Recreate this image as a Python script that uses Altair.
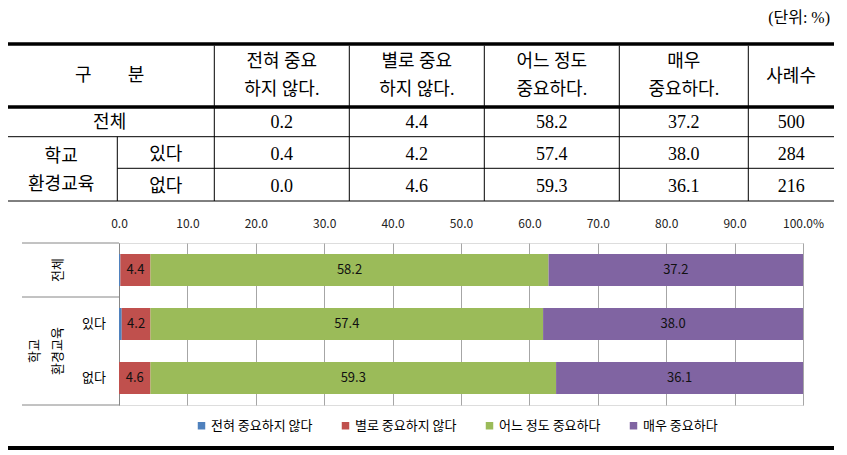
import altair as alt
import pandas as pd

# ---------------- data ----------------
groups = ["전체", "있다", "없다"]
categories = ["전혀 중요하지 않다", "별로 중요하지 않다", "어느 정도 중요하다", "매우 중요하다"]
colors = ["#4F81BD", "#C0504D", "#9BBB59", "#8064A2"]
v_not_at_all = [0.2, 0.4, 0.0]
v_not_very = [4.4, 4.2, 4.6]
v_somewhat = [58.2, 57.4, 59.3]
v_very = [37.2, 38.0, 36.1]
n_cases = [500, 284, 216]
header_first = "구\u3000\u3000분"
header_cols = [["전혀 중요", "하지 않다."], ["별로 중요", "하지 않다."],
               ["어느 정도", "중요하다."], ["매우", "중요하다."], ["사례수"]]
row_labels = ["전체", "있다", "없다"]
group_label = ["학교", "환경교육"]
unit_label = "(단위: %)"
x_ticks = [0, 10, 20, 30, 40, 50, 60, 70, 80, 90, 100]

# ---------------- layout (page pixels) ----------------
OX, OY = 119, 243          # plot origin on the page
PW, PH = 684, 162          # plot size
col_edges = [5, 117.3, 214.3, 349.3, 484.3, 619.3, 748.3, 834]
header_line_y = [61.7, 90]
header_single_y = 77
row_y = [123.3, 155, 186.7]
TABLE_FONT = "Liberation Serif, Noto Sans CJK KR"
CHART_FONT = "Noto Sans CJK KR"

series = [v_not_at_all, v_not_very, v_somewhat, v_very]
rows = []
for ci, (cat, vals) in enumerate(zip(categories, series)):
    for g, v in zip(groups, vals):
        rows.append({"group": g, "category": cat, "idx": ci, "value": v})
bars_df = pd.DataFrame(rows)

# ---------------- stacked bar chart ----------------
base = alt.Chart(bars_df).transform_stack(
    stack="value", groupby=["group"], sort=[alt.SortField("idx")], as_=["x0", "x1"]
).transform_calculate(mid="(datum.x0 + datum.x1) / 2")

xscale = alt.Scale(domain=[0, 100], nice=False, zero=True)
yscale = alt.Scale(domain=groups, paddingInner=0, paddingOuter=0)

bars = base.mark_bar(size=32).encode(
    x=alt.X("x0:Q", scale=xscale, title=None,
            axis=alt.Axis(orient="top", values=x_ticks, grid=True, gridColor="#a6a6a6",
                          domain=False, ticks=False, labelFontSize=12, labelFont=CHART_FONT,
                          labelColor="#222", labelPadding=13, labelFlush=False, labelOverlap=False,
                          labelExpr="datum.value == 100 ? '100.0%' : format(datum.value, '.1f')")),
    x2="x1:Q",
    y=alt.Y("group:N", scale=yscale, title=None,
            axis=alt.Axis(orient="left", labels=False, ticks=False, domain=True,
                          domainColor="#868686", grid=False)),
    color=alt.Color("category:N", scale=alt.Scale(domain=categories, range=colors),
                    legend=alt.Legend(title=None, orient="none", legendX=76, legendY=176,
                                      direction="horizontal", symbolType="square", symbolSize=56,
                                      symbolStrokeWidth=0, labelFontSize=13, labelFont=CHART_FONT,
                                      labelColor="#000", labelOffset=3, columnPadding=26,
                                      gridAlign="all", labelLimit=200)),
    order=alt.Order("idx:Q"),
)

bar_labels = base.transform_filter("datum.idx >= 1").mark_text(
    fontSize=13, font=CHART_FONT, color="#111", baseline="middle", align="center"
).encode(
    x=alt.X("mid:Q", scale=xscale),
    y=alt.Y("group:N", scale=yscale),
    text=alt.Text("value:Q", format=".1f"),
)

# left category labels of the chart
lab_df = pd.DataFrame({"group": groups, "label": row_labels})
lab_total = alt.Chart(lab_df).transform_filter(alt.datum.group == groups[0]).mark_text(
    angle=270, fontSize=13, font=CHART_FONT, color="#000", baseline="middle", align="center"
).encode(x=alt.value(-61), y=alt.Y("group:N", scale=yscale), text="label:N")
lab_sub = alt.Chart(lab_df).transform_filter(alt.datum.group != groups[0]).mark_text(
    fontSize=13, font=CHART_FONT, color="#000", baseline="middle", align="center"
).encode(x=alt.value(-25), y=alt.Y("group:N", scale=yscale), text="label:N")
lab_g1 = alt.Chart(pd.DataFrame({"t": [group_label[0]]})).mark_text(
    angle=270, fontSize=13, font=CHART_FONT, color="#000", baseline="middle", align="center"
).encode(x=alt.value(-84), y=alt.value(PH * 2 / 3), text="t:N")
lab_g2 = alt.Chart(pd.DataFrame({"t": [group_label[1]]})).mark_text(
    angle=270, fontSize=13, font=CHART_FONT, color="#000", baseline="middle", align="center"
).encode(x=alt.value(-61), y=alt.value(PH * 2 / 3), text="t:N")

frame_df = pd.DataFrame({"yy": [0, PH / 3, PH]})
frame = alt.Chart(frame_df).mark_rule(color="#868686", strokeWidth=1).encode(
    x=alt.value(22 - OX), x2=alt.value(0), y=alt.Y("yy:Q", scale=None, axis=None)
)

# ---------------- table ----------------
def cx(i):
    return (col_edges[i] + col_edges[i + 1]) / 2 - OX

lines = []
def hline(y, xa, xb, w):
    lines.append({"x1": xa - OX, "x2": xb - OX, "y1": y - OY, "y2": y - OY, "w": w})
def vline(x, ya, yb, w):
    lines.append({"x1": x - OX, "x2": x - OX, "y1": ya - OY, "y2": yb - OY, "w": w})

hline(43.9, col_edges[0], col_edges[-1], 3.5)
hline(107, col_edges[0], col_edges[-1], 3.5)
hline(136.7, col_edges[0], col_edges[-1], 1)
hline(168.3, col_edges[1], col_edges[-1], 1)
hline(201, col_edges[0], col_edges[-1], 1)
for e in col_edges[2:-1]:
    vline(e, 45.7, 201, 1)
vline(col_edges[1], 136.7, 201, 1)
hline(448, col_edges[0], col_edges[-1], 4)
lines_df = pd.DataFrame(lines)

table_lines = alt.Chart(lines_df).mark_rule(color="#000").encode(
    x=alt.X("x1:Q", scale=None, axis=None), x2="x2:Q",
    y=alt.Y("y1:Q", scale=None, axis=None), y2="y2:Q",
    strokeWidth=alt.StrokeWidth("w:Q", scale=None, legend=None),
)

cells = []
def cell(text, x, y):
    cells.append({"text": text, "px": x, "py": y - OY})

cell(header_first, (col_edges[0] + col_edges[2]) / 2 - OX, 76)
for j, h in enumerate(header_cols):
    if len(h) == 2:
        cell(h[0], cx(j + 2), header_line_y[0])
        cell(h[1], cx(j + 2), header_line_y[1])
    else:
        cell(h[0], cx(j + 2), header_single_y)
cell(row_labels[0], (col_edges[0] + col_edges[2]) / 2 - OX, row_y[0])
cell(group_label[0], cx(0), 156.7)
cell(group_label[1], cx(0), 185)
cell(row_labels[1], cx(1), row_y[1])
cell(row_labels[2], cx(1), row_y[2])
for r in range(3):
    for j, s in enumerate(series):
        cell(f"{s[r]:.1f}", cx(j + 2), row_y[r])
    cell(str(n_cases[r]), cx(6), row_y[r])
cells_df = pd.DataFrame(cells)

table_text = alt.Chart(cells_df).mark_text(
    font=TABLE_FONT, fontSize=18, color="#000", baseline="middle", align="center"
).encode(
    x=alt.X("px:Q", scale=None, axis=None),
    y=alt.Y("py:Q", scale=None, axis=None),
    text="text:N",
)

unit = alt.Chart(pd.DataFrame({"t": [unit_label]})).mark_text(
    font=TABLE_FONT, fontSize=16, color="#000", baseline="middle", align="right"
).encode(x=alt.value(830 - OX), y=alt.value(18 - OY), text="t:N")

chart = alt.layer(
    bars, bar_labels, lab_total, lab_sub, lab_g1, lab_g2, frame,
    table_lines, table_text, unit,
).properties(
    width=PW, height=PH,
    padding={"left": OX - 8, "top": OY - 8, "right": 847 - 16 - (OX - 8) - PW, "bottom": 45},
    autosize=alt.AutoSizeParams(type="none"),
).configure_view(stroke=None).configure(background="white")

chart.save("out.html", embed_options={"renderer": "svg", "actions": False})
